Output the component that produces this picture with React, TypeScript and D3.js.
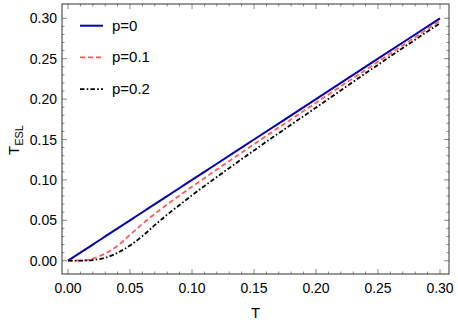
import React from "react";
import * as d3 from "d3";

const tValues = [0, 0.005, 0.01, 0.015, 0.02, 0.025, 0.03, 0.035, 0.04, 0.045, 0.05, 0.06, 0.07, 0.08, 0.09, 0.1, 0.12, 0.15, 0.2, 0.25, 0.3];
const p0Values = [0, 0.005, 0.01, 0.015, 0.02, 0.025, 0.03, 0.035, 0.04, 0.045, 0.05, 0.06, 0.07, 0.08, 0.09, 0.1, 0.12, 0.15, 0.2, 0.25, 0.3];
const p01Values = [0, 0, 0.0002, 0.0009, 0.0027, 0.0054, 0.009, 0.0132, 0.0185, 0.025, 0.032, 0.0455, 0.058, 0.0697, 0.0808, 0.0915, 0.1128, 0.1442, 0.1955, 0.2462, 0.297];
const p02Values = [0, 0, 0, 0.0002, 0.0008, 0.002, 0.0037, 0.0063, 0.0098, 0.014, 0.0188, 0.0305, 0.044, 0.057, 0.069, 0.081, 0.1035, 0.1365, 0.1895, 0.2425, 0.294];
const tickLabels = ["0.00", "0.05", "0.10", "0.15", "0.20", "0.25", "0.30"];
const seriesNames = ["p=0", "p=0.1", "p=0.2"];

const W = 458, H = 324;
const frame = { left: 62, right: 449, top: 4, bottom: 274 };

export default function App() {
  const x = d3.scaleLinear().domain([0, 0.3]).range([68, 440]);
  const y = d3.scaleLinear().domain([0, 0.3]).range([260.7, 18.3]);
  const majors = tickLabels.map(Number);
  const minors = d3.range(0, 31).map((i) => i / 100).filter((v) => Math.round(v * 100) % 5 !== 0);
  const line = (vals: number[]) =>
    d3.line<number>().x((_, i) => x(tValues[i])).y((d) => y(d)).curve(d3.curveMonotoneX)(vals) || "";
  const series = [
    { vals: p0Values, color: "#0000b0", width: 2, dash: "" },
    { vals: p01Values, color: "#ff5a5a", width: 1.8, dash: "5,3" },
    { vals: p02Values, color: "#000", width: 1.8, dash: "4.5,2.2,1.6,2.2" },
  ];
  const tickColor = "#888";
  const font = "'Liberation Sans', Arial, sans-serif";
  return (
    <svg width={W} height={H} style={{ position: "absolute", left: 0, top: 0, background: "#fff" }} fontFamily={font}>
      <defs>
        <clipPath id="clip">
          <rect x={frame.left} y={frame.top} width={frame.right - frame.left} height={frame.bottom - frame.top} />
        </clipPath>
      </defs>
      {majors.map((v) => (
        <g key={"xm" + v}>
          <line x1={x(v)} x2={x(v)} y1={frame.bottom} y2={frame.bottom - 5} stroke={tickColor} />
          <line x1={x(v)} x2={x(v)} y1={frame.top} y2={frame.top + 5} stroke={tickColor} />
          <line x1={frame.left} x2={frame.left + 5} y1={y(v)} y2={y(v)} stroke={tickColor} />
          <line x1={frame.right} x2={frame.right - 5} y1={y(v)} y2={y(v)} stroke={tickColor} />
        </g>
      ))}
      {minors.map((v) => (
        <g key={"xn" + v}>
          <line x1={x(v)} x2={x(v)} y1={frame.bottom} y2={frame.bottom - 2.5} stroke={tickColor} />
          <line x1={x(v)} x2={x(v)} y1={frame.top} y2={frame.top + 2.5} stroke={tickColor} />
          <line x1={frame.left} x2={frame.left + 2.5} y1={y(v)} y2={y(v)} stroke={tickColor} />
          <line x1={frame.right} x2={frame.right - 2.5} y1={y(v)} y2={y(v)} stroke={tickColor} />
        </g>
      ))}
      <rect x={frame.left} y={frame.top} width={frame.right - frame.left} height={frame.bottom - frame.top} fill="none" stroke="#333" strokeWidth={1} />
      {tickLabels.map((t, i) => (
        <text key={"xl" + t} x={x(majors[i])} y={frame.bottom + 19} fontSize={14} textAnchor="middle" fill="#000">{t}</text>
      ))}
      {tickLabels.map((t, i) => (
        <text key={"yl" + t} x={57} y={y(majors[i]) + 5} fontSize={14} textAnchor="end" fill="#000">{t}</text>
      ))}
      <text x={(frame.left + frame.right) / 2} y={318} fontSize={15} textAnchor="middle">T</text>
      <text transform="translate(19,140) rotate(-90)" fontSize={15} textAnchor="middle">
        T<tspan fontSize={11} dy={4}>ESL</tspan>
      </text>
      <g clipPath="url(#clip)">
        {series.map((s, i) => (
          <path key={i} d={line(s.vals)} fill="none" stroke={s.color} strokeWidth={s.width} strokeDasharray={s.dash || undefined} />
        ))}
      </g>
      {series.map((s, i) => (
        <g key={"lg" + i}>
          <line x1={80} x2={103} y1={25.7 + i * 31.7} y2={25.7 + i * 31.7} stroke={s.color} strokeWidth={s.width} strokeDasharray={s.dash || undefined} />
          <text x={112} y={25.7 + i * 31.7 + 5} fontSize={15} fill="#000">{seriesNames[i]}</text>
        </g>
      ))}
    </svg>
  );
}
